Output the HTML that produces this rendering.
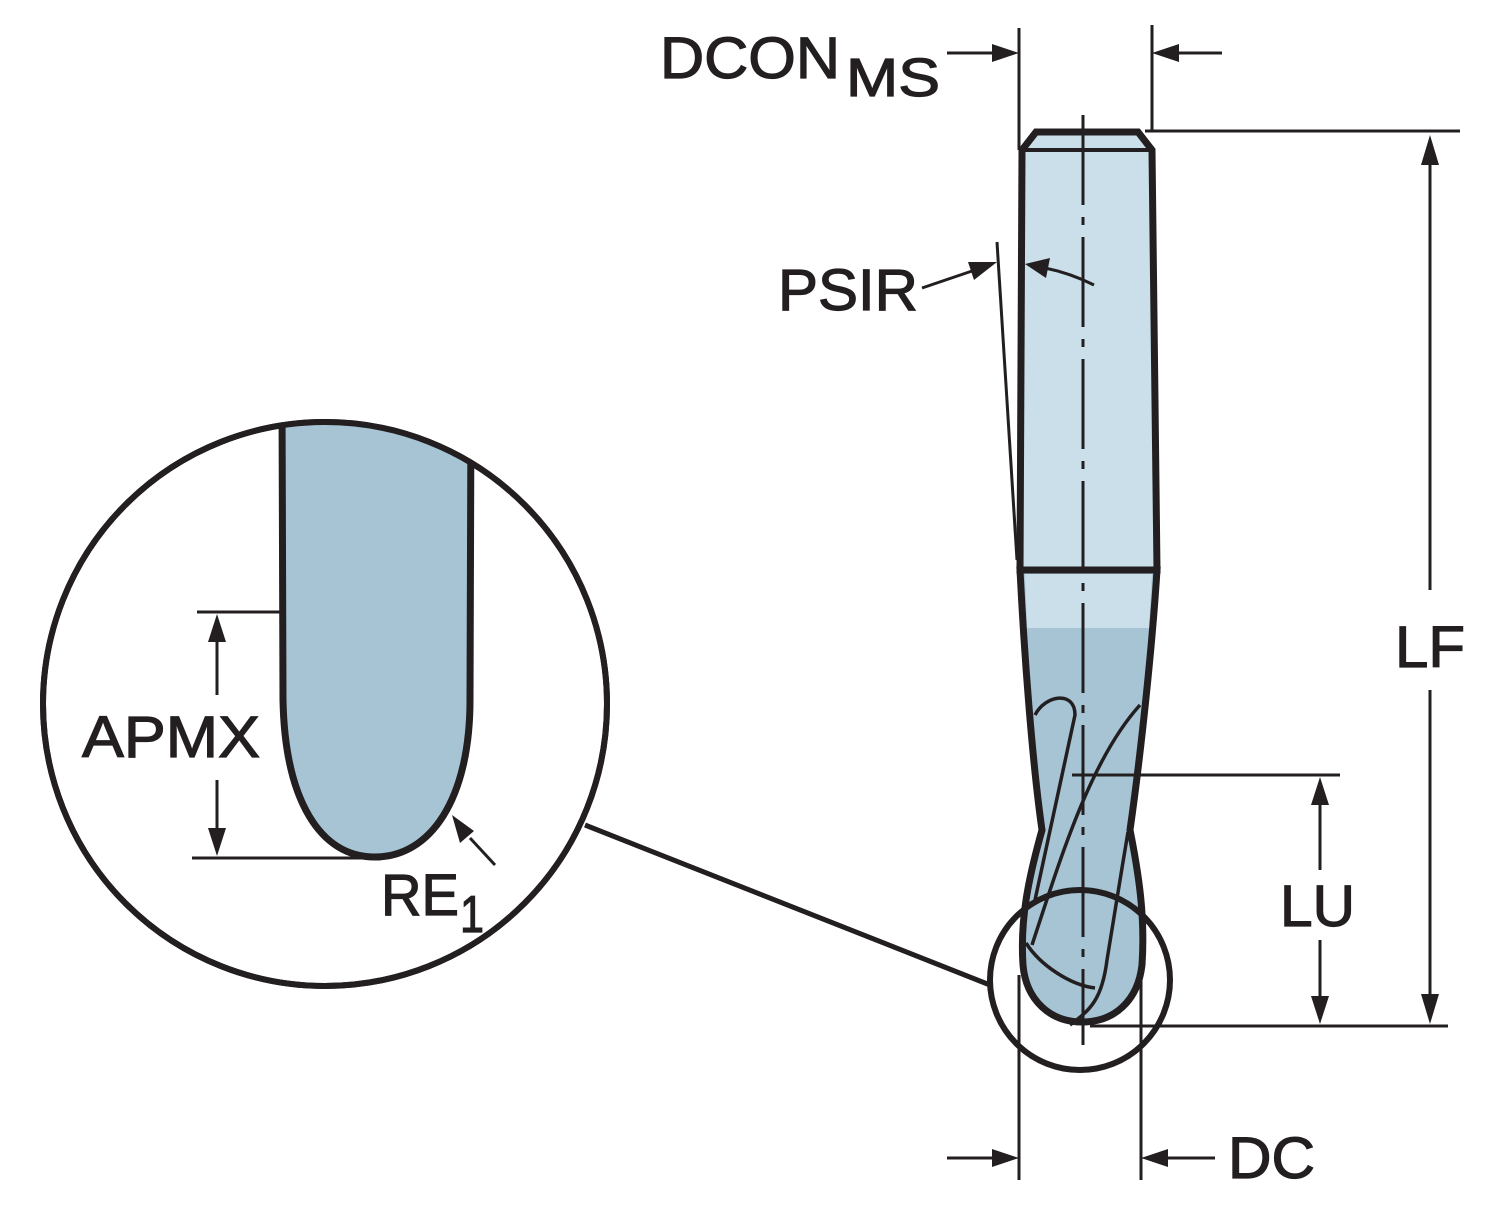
<!DOCTYPE html>
<html><head><style>
html,body{margin:0;padding:0;background:#fff;}
svg{display:block;}
text{font-family:"Liberation Sans",Arial,sans-serif;fill:#231f20;stroke:#231f20;stroke-width:1.2;}
</style></head><body>
<svg width="1500" height="1213" viewBox="0 0 1500 1213" xmlns="http://www.w3.org/2000/svg">
<defs>
<clipPath id="cc"><circle cx="325" cy="704" r="282"/></clipPath>
</defs>
<g stroke="#231f20" fill="none">
<!-- shank -->
<path d="M1022,150 L1036,132 L1138,132 L1152,150 L1157,570 L1020,570 Z" fill="#cadfea" stroke-width="7"/>
<line x1="1022" y1="150" x2="1152" y2="150" stroke-width="4"/>
<!-- neck/flute -->
<path d="M1020,570 L1157,570 C1152,650 1140,760 1130,830 C1140,880 1145,920 1142,965 C1138,1000 1115,1022 1082,1022 C1050,1022 1026,1000 1023,965 C1020,920 1028,880 1042,830 C1032,760 1024,650 1020,570 Z" fill="#a7c4d5" stroke-width="7"/>
<path d="M1025,574 L1152,574 L1149,628 L1027,628 Z" fill="#cadfea" stroke="none"/>
<line x1="1020" y1="570" x2="1157" y2="570" stroke-width="3"/>
<!-- flutes -->
<path d="M1035,715 C1045,695 1075,690 1075,715 L1035,900" stroke-width="3.5"/>
<path d="M1140,705 C1090,760 1060,860 1032,945" stroke-width="3.5"/>
<path d="M1128,832 C1120,880 1110,940 1107,960 C1102,1000 1090,1010 1070,1025" stroke-width="3.5"/>
<path d="M1026,943 C1040,965 1070,985 1095,988" stroke-width="3.5"/>
<!-- centerline -->
<path d="M1083,115 L1083,1045" stroke-width="3" stroke-dasharray="90,12,8,12"/>
<!-- DCON -->
<line x1="1019" y1="28" x2="1019" y2="150" stroke-width="3"/>
<line x1="1152" y1="25" x2="1152" y2="132" stroke-width="3"/>
<line x1="947" y1="53" x2="1000" y2="53" stroke-width="3"/>
<line x1="1170" y1="53" x2="1222" y2="53" stroke-width="3"/>
<!-- LF -->
<line x1="1145" y1="131" x2="1460" y2="131" stroke-width="3"/>
<line x1="1090" y1="1026" x2="1448" y2="1026" stroke-width="3"/>
<line x1="1430" y1="160" x2="1430" y2="590" stroke-width="3"/>
<line x1="1430" y1="690" x2="1430" y2="1000" stroke-width="3"/>
<!-- LU -->
<line x1="1072" y1="775" x2="1340" y2="775" stroke-width="3"/>
<line x1="1320" y1="800" x2="1320" y2="870" stroke-width="3"/>
<line x1="1320" y1="940" x2="1320" y2="1000" stroke-width="3"/>
<!-- DC -->
<line x1="1019" y1="975" x2="1019" y2="1180" stroke-width="3"/>
<line x1="1141" y1="975" x2="1141" y2="1180" stroke-width="3"/>
<line x1="947" y1="1158" x2="1000" y2="1158" stroke-width="3"/>
<line x1="1160" y1="1158" x2="1215" y2="1158" stroke-width="3"/>
<!-- PSIR -->
<line x1="997" y1="242" x2="1017" y2="560" stroke-width="3"/>
<line x1="922" y1="288" x2="975" y2="270" stroke-width="3"/>
<path d="M1094,285 C1080,278 1065,272 1045,268" stroke-width="3"/>
<!-- detail circle -->
<circle cx="1080" cy="980" r="90" stroke-width="6"/>
<line x1="585" y1="825" x2="990" y2="985" stroke-width="5"/>
<circle cx="325" cy="704" r="282" stroke-width="6" fill="#fff"/>
<path d="M282,400 L471,400 L470,700 C470,800 430,857 375,857 C320,857 285,800 283,700 Z" fill="#a7c4d5" stroke-width="7" clip-path="url(#cc)"/>
<circle cx="325" cy="704" r="282" stroke-width="6" fill="none"/>
<!-- APMX -->
<line x1="197" y1="612" x2="280" y2="612" stroke-width="3"/>
<line x1="192" y1="858" x2="365" y2="858" stroke-width="3"/>
<line x1="217" y1="640" x2="217" y2="695" stroke-width="3"/>
<line x1="217" y1="780" x2="217" y2="830" stroke-width="3"/>
<line x1="495" y1="865" x2="470" y2="838" stroke-width="3"/>
</g>
<g fill="#231f20">
<polygon points="1019,53 992,44 992,62"/>
<polygon points="1152,53 1179,44 1179,62"/>
<polygon points="1430,135 1421,165 1439,165"/>
<polygon points="1430,1024 1421,994 1439,994"/>
<polygon points="1320,777 1311,805 1329,805"/>
<polygon points="1320,1024 1311,996 1329,996"/>
<polygon points="1019,1158 992,1149 992,1167"/>
<polygon points="1141,1158 1168,1149 1168,1167"/>
<polygon points="997,262 968,262 974,280"/>
<polygon points="1025,264 1050,258 1046,278"/>
<polygon points="217,614 208,642 226,642"/>
<polygon points="217,856 208,828 226,828"/>
<polygon points="452,815 460,843 474,831"/>
</g>
<text x="660" y="78" font-size="58" textLength="180" lengthAdjust="spacingAndGlyphs">DCON</text>
<text x="846" y="96" font-size="54" textLength="94" lengthAdjust="spacingAndGlyphs">MS</text>
<text x="778" y="310" font-size="58" textLength="140" lengthAdjust="spacingAndGlyphs">PSIR</text>
<text x="1395" y="667" font-size="58" textLength="70" lengthAdjust="spacingAndGlyphs">LF</text>
<text x="1280" y="926" font-size="58" textLength="75" lengthAdjust="spacingAndGlyphs">LU</text>
<text x="1228" y="1178" font-size="58" textLength="87" lengthAdjust="spacingAndGlyphs">DC</text>
<text x="82" y="757" font-size="58" textLength="178" lengthAdjust="spacingAndGlyphs">APMX</text>
<text x="381" y="915" font-size="58" textLength="78" lengthAdjust="spacingAndGlyphs">RE</text>
<text x="460" y="932" font-size="52" textLength="24" lengthAdjust="spacingAndGlyphs">1</text>
</svg>
</body></html>
